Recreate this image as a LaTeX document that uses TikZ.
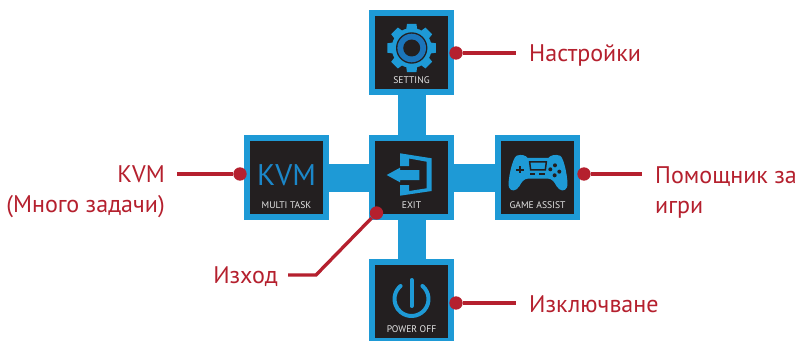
\documentclass[tikz,border=0pt]{standalone}
\usepackage{fontspec}
\setmainfont{PT Sans}
\definecolor{menublue}{HTML}{1E9AD6}
\definecolor{iconblue}{HTML}{1B75BB}
\definecolor{logoblue}{HTML}{1B87C9}
\definecolor{menudark}{HTML}{231F20}
\definecolor{calloutred}{HTML}{B5202E}
\tikzset{
  menubox/.style={rectangle,draw=menublue,fill=menudark,line width=1.85mm,minimum width=2.355cm,minimum height=2.355cm},
  menubar/.style={draw=menublue,line width=0.84cm},
  boxtext/.style={font=\fontsize{8.2}{9}\selectfont,text=white!90!black,inner sep=0pt},
  dot/.style={circle,fill=calloutred,inner sep=0pt,minimum size=0.4cm},
  callout/.style={draw=calloutred,line width=0.1cm},
  calloutlabel/.style={font=\fontsize{20.5}{25.6}\selectfont,text=calloutred,inner sep=0pt}
}
\begin{document}
\begin{tikzpicture}[x=0.03cm,y=-0.03cm]
\useasboundingbox (0,0) rectangle (796,340);
\clip (0,0) rectangle (796,340);
\fill[white] (0,0) rectangle (796,340);
% the five menu boxes
\node[menubox] (setting) at (411.5,52.5) {};
\node[menubox] (kvm) at (286.5,177.5) {};
\node[menubox] (exit) at (411.5,177.5) {};
\node[menubox] (game) at (537.5,177.5) {};
\node[menubox] (power) at (411.5,301.5) {};
\draw[menubar] (setting) -- (exit);
\draw[menubar] (exit) -- (power);
\draw[menubar] (kvm) -- (exit);
\draw[menubar] (exit) -- (game);
\node[boxtext] (settingtext) at (411.5,80.5) {SETTING};
\node[boxtext] (kvmtext) at (286.5,205) {MULTI TASK};
\node[boxtext] (exittext) at (411.5,205) {EXIT};
\node[boxtext] (gametext) at (537.5,205) {GAME ASSIST};
\node[boxtext] (powertext) at (411.5,329.5) {POWER OFF};
\node[font=\fontsize{25.5}{28}\selectfont,text=logoblue,inner sep=0pt] (kvmlogo) at (286.5,175.5) {KVM};
% gear
\foreach \a in {0,45,...,315}
  \fill[menublue,shift={(411.7,48)}] (\a-11:24.7) -- (\a+11:24.7) -- (\a+17:19) -- (\a-17:19) -- cycle;
\fill[menublue] (411.7,48) circle (20);
\fill[menudark] (411.7,48) circle (15.7);
\fill[iconblue] (411.7,48) circle (14.3);
\fill[menudark] (411.7,48) circle (8.5);
% exit door and arrow
\fill[menublue] (400,153.3) -- (431.7,158.3) -- (431.7,191) -- (400,195.7) -- (400,185) -- (409,185) -- (409,191) -- (426.7,188.3) -- (426.7,161.7) -- (409,158.5) -- (409,166) -- (400,166) -- cycle;
\fill[menublue] (386.7,175) -- (400,167.7) -- (400,170) -- (419.3,170) -- (419.3,180) -- (400,180) -- (400,182.3) -- cycle;
% gamepad
\begin{scope}[shift={(505,148)},x=0.01cm,y=-0.01cm]
\fill[menublue] (35,23) .. controls (50,18) and (62,22) .. (68,30) -- (130,30) .. controls (136,22) and (150,18) .. (165,23) .. controls (178,28) and (192,105) .. (186,118) .. controls (180,132) and (165,130) .. (155,115) .. controls (148,102) and (142,93) .. (130,92) -- (68,92) .. controls (56,93) and (50,102) .. (43,115) .. controls (33,130) and (18,132) .. (12,118) .. controls (6,105) and (22,28) .. (35,23) -- cycle;
\draw[menudark,fill=menublue,line width=0.045cm] (74,42) -- (124,42) -- (121,66) -- (77,66) -- cycle;
\fill[menudark] (34,62) rectangle (56,68);
\fill[menudark] (42,54) rectangle (48,76);
\fill[menudark] (75,76) rectangle (91,80);
\fill[menudark] (103,76) rectangle (119,80);
\foreach \p in {(150,52),(136,64),(163,71),(149,82)}
  \fill[menudark] \p circle (6);
\end{scope}
% power symbol
\draw[menublue,line width=0.12cm,line cap=round] (411.5,299)++(-50:17) arc[start angle=-50,end angle=230,radius=17];
\draw[menublue,line width=0.12cm,line cap=round] (411.5,280) -- (411.5,306);
% callouts
\node[dot] (dotsetting) at (456,53) {};
\node[dot] (dotkvm) at (240,174) {};
\node[dot] (dotexit) at (376.5,213) {};
\node[dot] (dotgame) at (584,174) {};
\node[dot] (dotpower) at (456,303) {};
\coordinate (endsetting) at (516,53);
\coordinate (endkvm) at (177,174);
\coordinate (bendexit) at (316,275);
\coordinate (endexit) at (288,275);
\coordinate (endgame) at (642,174);
\coordinate (endpower) at (516,303);
\draw[callout] (dotsetting) -- (endsetting);
\draw[callout] (dotkvm) -- (endkvm);
\draw[callout] (dotexit) -- (bendexit) -- (endexit);
\draw[callout] (dotgame) -- (endgame);
\draw[callout] (dotpower) -- (endpower);
\node[calloutlabel,anchor=west] (labelsetting) at (529,55) {Настройки};
\node[calloutlabel,anchor=east,align=right] (labelkvm) at (165,192) {KVM\\(Много задачи)};
\node[calloutlabel,anchor=east] (labelexit) at (278,277) {Изход};
\node[calloutlabel,anchor=west,align=left] (labelgame) at (655,192) {Помощник за\\игри};
\node[calloutlabel,anchor=west] (labelpower) at (529,304) {Изключване};
\end{tikzpicture}
\end{document}
